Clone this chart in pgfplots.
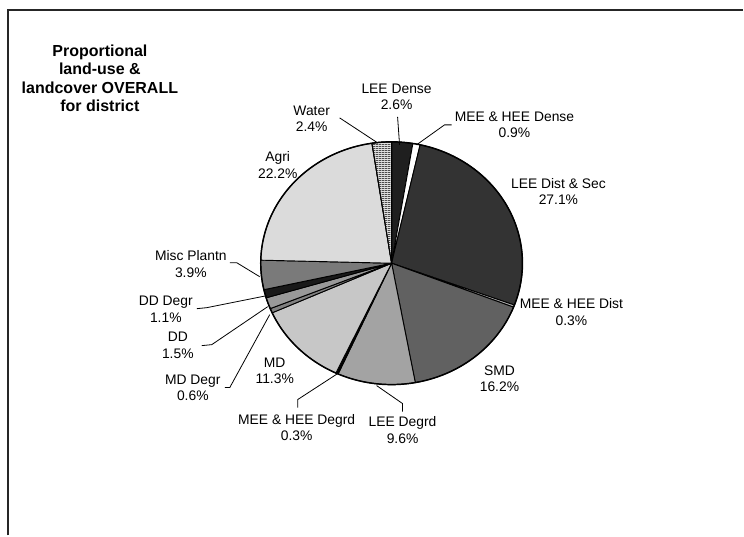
\documentclass[border=0pt]{standalone}
\usepackage{fontspec}
\setmainfont{Liberation Sans}
\usepackage{pgfplots}
\usepackage{pgfplotstable}
\pgfplotsset{compat=1.18}
\usetikzlibrary{patterns}

\pgfdeclarepatternformonly{denselines}{\pgfpointorigin}{\pgfpoint{2pt}{1.7pt}}{\pgfpoint{2pt}{1.7pt}}{%
  \pgfsetlinewidth{0.75pt}%
  \pgfpathmoveto{\pgfpoint{-0.1pt}{0.4pt}}%
  \pgfpathlineto{\pgfpoint{2.1pt}{0.4pt}}%
  \pgfusepath{stroke}%
}

% shares in percent, clockwise from 12 o'clock
\pgfplotstableread{
value
2.6
0.9
27.1
0.3
16.2
9.6
0.3
11.3
0.6
1.5
1.1
3.9
22.2
2.4
}\piedata

\def\cx{392}
\def\cy{272.5}
\def\rx{131}
\def\ry{121.5}

\pgfplotsset{
  slicebase/.style={draw=black, line width=0.7pt, line join=round, mark=none},
  slice0/.style={slicebase, fill=black!88},
  slice1/.style={slicebase, fill=white},
  slice2/.style={slicebase, fill=black!80},
  slice3/.style={slicebase, fill=black!30},
  slice4/.style={slicebase, fill=black!62},
  slice5/.style={slicebase, fill=black!36},
  slice6/.style={slicebase, fill=black},
  slice7/.style={slicebase, fill=black!22},
  slice8/.style={slicebase, fill=black!50},
  slice9/.style={slicebase, fill=black!40},
  slice10/.style={slicebase, fill=black!90},
  slice11/.style={slicebase, fill=black!52},
  slice12/.style={slicebase, fill=black!14},
  slice13/.style={slicebase, fill=black!12, postaction={pattern=denselines, pattern color=black!70}},
}

\begin{document}
\begin{tikzpicture}
\begin{axis}[
  width=558pt, height=402pt, scale only axis,
  xmin=0, xmax=744, ymin=0, ymax=536,
  hide axis, clip=false,
]
\path (axis cs:0,0) rectangle (axis cs:744,536);
% frame
\draw[line width=1.2pt, black!85] (axis cs:8,0) -- (axis cs:8,526) -- (axis cs:744,526);

\def\cum{0}
\pgfplotsforeachungrouped \i in {0,...,13} {
  \pgfplotstablegetelem{\i}{value}\of\piedata
  \pgfmathsetmacro\a{90-3.6*\cum}
  \pgfmathsetmacro\cumnew{\cum+\pgfplotsretval}
  \pgfmathsetmacro\b{90-3.6*\cumnew}
  \pgfmathtruncatemacro\ns{max(3,ceil(abs(\a-\b)/1.5)+1)}
  \edef\temp{\noexpand\addplot[slice\i, domain=\b:\a, samples=\ns] ({\cx+\rx*cos(x)},{\cy+\ry*sin(x)}) -- (axis cs:\cx,\cy) -- cycle;}
  \temp
  \let\cum\cumnew
}
% outer rim
\addplot[draw=black, line width=1.1pt, domain=0:360, samples=241, mark=none] ({\cx+\rx*cos(x)},{\cy+\ry*sin(x)});

% title
\node[align=center, font=\bfseries\fontsize{12}{13.9}\selectfont] at (axis cs:100,457.5) {Proportional\\land-use \&\\landcover OVERALL\\for district};

% labels
\begin{scope}[every node/.style={align=center, font=\fontsize{10.4}{12.4}\selectfont}]
\node at (axis cs:397,439) {LEE Dense\\2.6\%};
\node at (axis cs:515,411) {MEE \& HEE Dense\\0.9\%};
\node at (axis cs:559,344.5) {LEE Dist \& Sec\\27.1\%};
\node at (axis cs:572,223.5) {MEE \& HEE Dist\\0.3\%};
\node at (axis cs:500,157) {SMD\\16.2\%};
\node at (axis cs:403,105.5) {LEE Degrd\\9.6\%};
\node at (axis cs:297,108) {MEE \& HEE Degrd\\0.3\%};
\node at (axis cs:275,165) {MD\\11.3\%};
\node at (axis cs:193,148) {MD Degr\\0.6\%};
\node at (axis cs:178,190.5) {DD\\1.5\%};
\node at (axis cs:166,226.5) {DD Degr\\1.1\%};
\node at (axis cs:191,271.5) {Misc Plantn\\3.9\%};
\node at (axis cs:278,371) {Agri\\22.2\%};
\node at (axis cs:312,417) {Water\\2.4\%};
\end{scope}

% leader lines
\begin{scope}[line width=0.6pt]
\draw (axis cs:398,419) -- (axis cs:400,391);
\draw (axis cs:452,411) -- (axis cs:445,411) -- (axis cs:417,391);
\draw (axis cs:340,418) -- (axis cs:378,393);
\draw (axis cs:230,273) -- (axis cs:237,273) -- (axis cs:260,259);
\draw (axis cs:197,227) -- (axis cs:207,228) -- (axis cs:267,240);
\draw (axis cs:202,190) -- (axis cs:212,191) -- (axis cs:268,229);
\draw (axis cs:225,148) -- (axis cs:230,148) -- (axis cs:270,221);
\draw (axis cs:298,128) -- (axis cs:298,136) -- (axis cs:338,162);
\draw (axis cs:403,124) -- (axis cs:403,132) -- (axis cs:377,150);
\end{scope}
\end{axis}
\end{tikzpicture}
\end{document}
